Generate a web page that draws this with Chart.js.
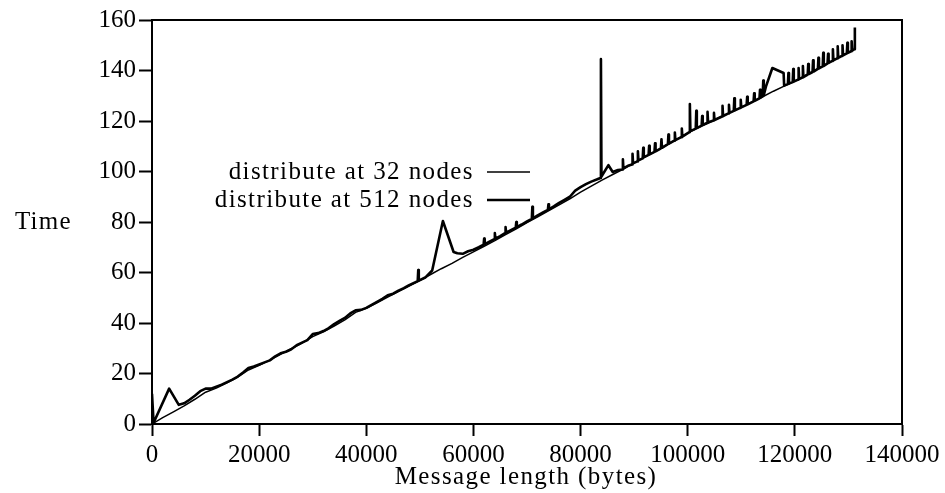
<!DOCTYPE html>
<html>
<head>
<meta charset="utf-8">
<script src="https://cdn.jsdelivr.net/npm/chart.js@4/dist/chart.umd.min.js"></script>
<style>
html,body{margin:0;padding:0;background:#fff;}
#wrap{width:945px;height:493px;position:relative;}
</style>
</head>
<body>
<div id="wrap"><canvas id="c" width="945" height="493"></canvas></div>
<script>
// ---- data ----
const seriesLabels = ["distribute at 32 nodes", "distribute at 512 nodes"];
const xTitle = "Message length (bytes)";
const yTitle = "Time";

const x32 = [0,2000,4000,6000,8000,10000,12000,14000,16000,18000,20000,22000,24000,26000,28000,30000,32000,34000,36000,38000,40000,42000,44000,46000,48000,50000,52000,54000,56000,58000,60000,62000,64000,66000,68000,70000,72000,74000,76000,78000,80000,82000,84000,86000,88000,90000,92000,94000,96000,98000,100000,102000,104000,106000,108000,110000,112000,114000,116000,118000,120000,122000,124000,126000,128000,130000,131000];
const y32 = [0,2.5,4.8,7.2,9.8,12.6,14.2,16.3,18.6,21.4,23.2,25.3,27.6,29.8,32.0,34.6,36.5,38.8,41.2,44.2,45.8,48.0,50.3,52.4,54.6,56.8,59.2,61.5,63.6,66.0,68.2,70.4,72.6,75.0,77.3,79.8,82.0,84.4,86.8,89.2,91.8,94.2,96.6,98.8,101.0,103.4,105.8,108.0,110.4,112.8,115.2,117.4,119.4,121.4,123.4,125.4,127.6,129.6,131.8,133.8,135.8,138.2,140.4,142.6,145.0,147.2,148.5];

const x512 = [0,300,3200,5000,6000,7000,8000,9000,10000,11000,12000,13000,14000,15000,16000,17000,18000,19000,20000,21000,22000,23000,24000,25000,26000,27000,28000,29000,30000,31000,32000,33000,34000,35000,36000,37000,38000,39000,40000,41000,42000,43000,44000,45000,46000,47000,48000,49000,49600,49700,49800,51000,52300,54300,56300,57000,58000,59000,60000,61000,61900,62000,62100,63000,63900,64000,64100,65000,65900,66000,66100,67000,67900,68000,68100,69000,70000,70900,71000,71100,72000,73000,73900,74000,74100,75000,76000,77000,78000,79000,80000,81000,82000,83000,83700,83800,83900,85200,86000,87000,87800,87900,88000,89000,89600,89700,89800,90600,90700,90800,91600,91700,91800,92700,92800,92900,93800,93900,94000,95000,95100,95200,96300,96400,96500,97500,97600,97700,98800,98900,99000,100300,100400,100500,101500,101600,101700,102600,102700,102800,103600,103700,103800,104800,104900,105000,106400,106500,106600,107600,107700,107800,108600,108700,108800,109800,109900,110000,111000,111100,111200,112300,112400,112500,113400,113500,113600,114000,114100,114200,114600,115800,117900,118000,118700,118800,118900,119600,119700,119800,120600,120700,120800,121400,121500,121600,122400,122500,122600,123300,123400,123500,124300,124400,124500,125200,125300,125400,126100,126200,126300,127000,127100,127200,127900,128000,128100,128800,128900,129000,129700,129800,129900,130500,130600,130700,131100,131200];
const y512 = [12,0.5,14,7.6,8.2,9.6,11.2,13.0,14.0,14.0,14.8,15.6,16.6,17.6,18.8,20.4,22.2,22.8,23.6,24.4,25.2,26.8,28.0,28.6,29.6,31.2,32.2,33.2,35.6,36.0,36.8,38.0,39.6,40.8,42.0,43.8,45.0,45.2,46.0,47.2,48.4,49.6,51.0,51.6,52.8,53.8,55.0,56.0,56.6,61.0,56.8,58.0,60.8,80.4,68.1,67.6,67.4,68.4,69.0,70.0,71.0,73.4,71.2,72.2,73.2,75.6,73.4,74.4,75.6,78.0,75.8,76.8,77.8,80.0,78.0,79.0,80.2,81.2,86.0,81.4,82.6,83.8,84.8,87.0,85.0,86.2,87.6,88.8,90.0,92.4,93.8,95.0,96.0,96.8,97.4,144.5,98.0,102.5,99.8,100.6,100.8,104.8,101.2,102.4,102.8,107.0,103.2,104.0,108.0,104.4,105.2,109.4,105.6,106.6,110.2,106.8,107.8,111.2,108.0,109.2,112.8,109.4,110.8,114.6,111.0,112.2,115.4,112.4,113.6,117.0,113.8,115.6,126.7,116.0,117.0,124.0,117.2,118.2,122.0,118.4,119.2,123.6,119.4,120.2,123.2,120.4,121.8,126.0,122.0,123.0,126.4,123.2,124.0,129.0,124.2,125.2,128.4,125.4,126.4,129.6,126.6,127.8,131.0,128.0,129.0,132.4,129.2,129.8,136.0,130.2,133.6,141.0,139.0,134.0,134.6,139.0,134.8,135.4,140.6,135.6,136.4,141.0,136.6,137.2,141.8,137.4,138.4,142.6,138.6,139.4,144.0,139.6,140.6,145.0,140.8,141.6,147.0,141.8,142.8,146.6,143.0,143.8,148.4,144.0,144.8,149.6,145.0,145.8,150.0,146.0,146.8,151.0,147.0,147.6,151.6,147.8,148.4,157.0];

const xTicks = [0,20000,40000,60000,80000,100000,120000,140000];
const yTicks = [0,20,40,60,80,100,120,140,160];

// ---- chart ----
const FONT = "'Liberation Serif', 'DejaVu Serif', serif";
const toPts = (xs, ys) => xs.map((x, i) => ({x: x, y: ys[i]}));

const framePlugin = {
  id: 'frame',
  afterDatasetsDraw(chart) {
    const {ctx, chartArea: a} = chart;
    ctx.save();
    ctx.strokeStyle = '#000';
    ctx.lineWidth = 2;
    ctx.beginPath();
    ctx.moveTo(a.left, a.top);
    ctx.lineTo(a.right, a.top);
    ctx.lineTo(a.right, a.bottom);
    ctx.stroke();
    ctx.restore();
  },
  afterDraw(chart) {
    const {ctx} = chart;
    ctx.save();
    ctx.fillStyle = '#000';
    ctx.font = "25px " + FONT;
    // legend (text right-aligned, line sample to its right)
    const rows = [172, 200];
    ctx.letterSpacing = '1.4px';
    chart.data.datasets.forEach((ds, i) => {
      ctx.textAlign = 'right';
      ctx.textBaseline = 'middle';
      ctx.fillText(ds.label, 474, rows[i]);
      ctx.strokeStyle = '#000';
      ctx.lineWidth = ds.borderWidth;
      ctx.beginPath();
      ctx.moveTo(487, rows[i]);
      ctx.lineTo(530, rows[i]);
      ctx.stroke();
    });
    // y title
    ctx.letterSpacing = '1.2px';
    ctx.textAlign = 'left';
    ctx.textBaseline = 'middle';
    ctx.fillText(yTitle, 15, 222);
    // x title
    ctx.letterSpacing = '1.4px';
    ctx.textAlign = 'center';
    ctx.fillText(xTitle, 526, 477);
    ctx.restore();
  }
};

new Chart(document.getElementById('c'), {
  type: 'line',
  data: {
    datasets: [
      {label: seriesLabels[0], data: toPts(x32, y32), borderColor: '#000', borderWidth: 1.5, pointRadius: 0, tension: 0, fill: false, borderJoinStyle: 'round'},
      {label: seriesLabels[1], data: toPts(x512, y512), borderColor: '#000', borderWidth: 2.6, pointRadius: 0, tension: 0, fill: false, borderJoinStyle: 'round'}
    ]
  },
  options: {
    responsive: false,
    animation: false,
    events: [],
    layout: {padding: {top: 20, right: 43, left: 0, bottom: 0}},
    plugins: {legend: {display: false}, tooltip: {enabled: false}, title: {display: false}},
    scales: {
      x: {
        type: 'linear', min: 0, max: 140000,
        afterBuildTicks: s => { s.ticks = xTicks.map(v => ({value: v})); },
        afterFit: s => { s.height = 69; },
        grid: {display: true, drawOnChartArea: false, drawTicks: true, tickLength: 12, tickWidth: 2, tickColor: '#000'},
        border: {display: true, color: '#000', width: 2},
        ticks: {color: '#000', padding: 4, maxRotation: 0, autoSkip: false, font: {family: FONT, size: 25}, callback: v => String(v)}
      },
      y: {
        type: 'linear', min: 0, max: 160,
        afterBuildTicks: s => { s.ticks = yTicks.map(v => ({value: v})); },
        afterFit: s => { s.width = 152; },
        grid: {display: true, drawOnChartArea: false, drawTicks: true, tickLength: 13, tickWidth: 2, tickColor: '#000'},
        border: {display: true, color: '#000', width: 2},
        ticks: {color: '#000', padding: 3, autoSkip: false, font: {family: FONT, size: 25}, callback: v => String(v)}
      }
    }
  },
  plugins: [framePlugin]
});
</script>
</body>
</html>
